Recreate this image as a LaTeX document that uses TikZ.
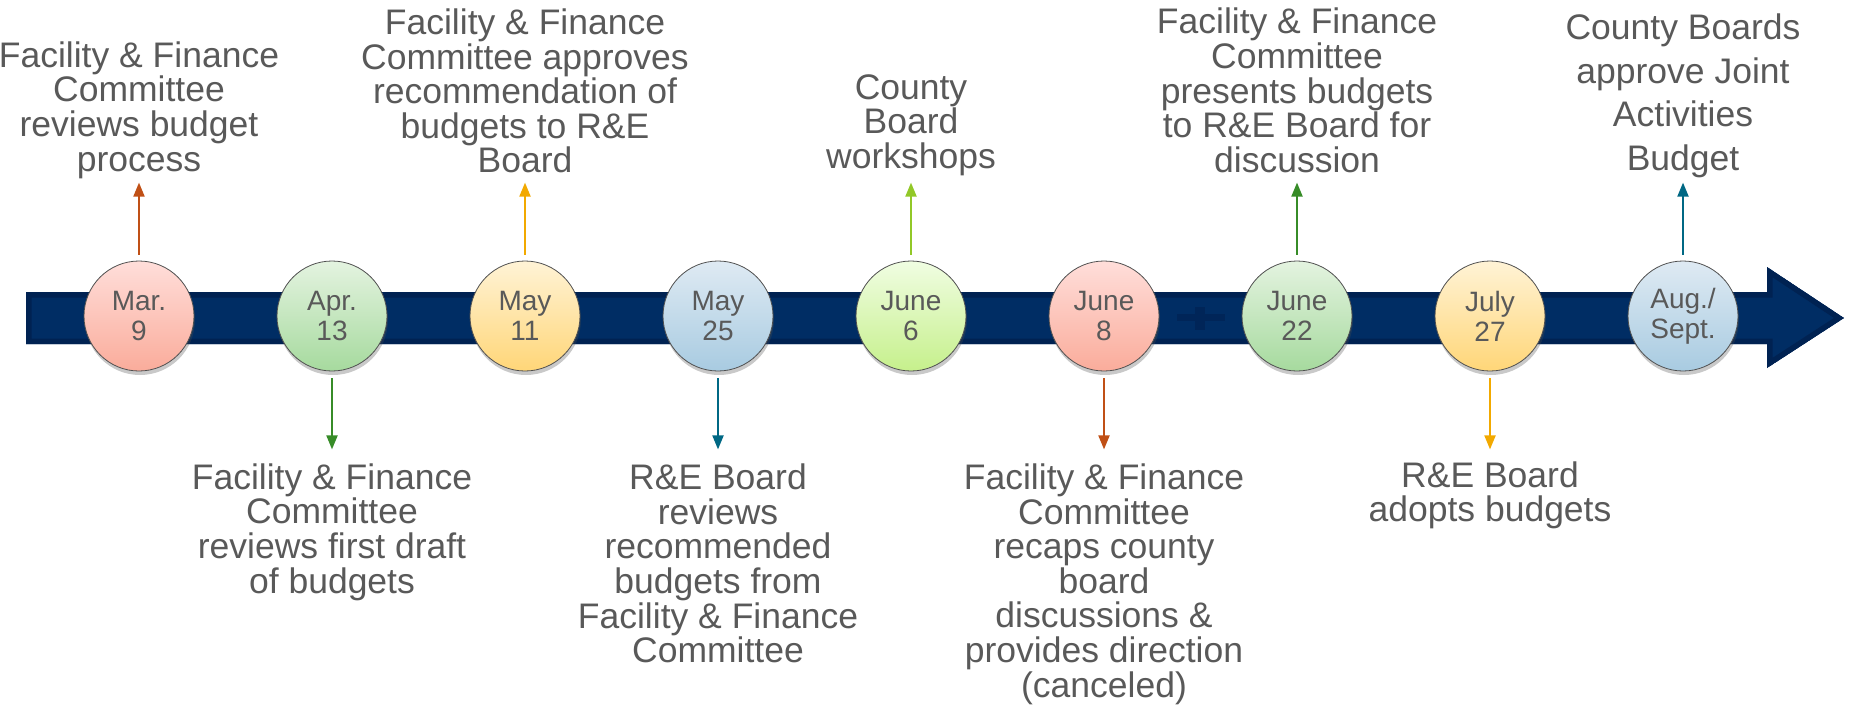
\documentclass[tikz,border=0pt]{standalone}
\usepackage{fontspec}
\setmainfont{Liberation Sans}
\usetikzlibrary{arrows.meta,shadows}
\definecolor{navy}{RGB}{0,45,100}
\definecolor{navydark}{RGB}{0,34,82}
\definecolor{navymark}{RGB}{0,37,88}
\definecolor{txt}{RGB}{89,89,89}
\definecolor{cRed}{RGB}{192,80,22}
\definecolor{cGold}{RGB}{242,169,0}
\definecolor{cLime}{RGB}{146,200,40}
\definecolor{cGreen}{RGB}{55,140,40}
\definecolor{cTeal}{RGB}{0,104,132}
\definecolor{pinkT}{RGB}{255,222,218}
\definecolor{pinkB}{RGB}{250,172,155}
\definecolor{greenT}{RGB}{228,243,224}
\definecolor{greenB}{RGB}{166,218,158}
\definecolor{yelT}{RGB}{255,243,214}
\definecolor{yelB}{RGB}{255,214,120}
\definecolor{blueT}{RGB}{223,234,243}
\definecolor{blueB}{RGB}{168,203,225}
\definecolor{limeT}{RGB}{240,253,226}
\definecolor{limeB}{RGB}{198,240,140}
\definecolor{ringc}{RGB}{80,80,80}
\tikzset{
  date/.style={circle, minimum size=110pt, inner sep=0pt, draw=ringc, line width=0.8pt,
    align=center, text=txt, font=\fontsize{28}{30}\selectfont,
    drop shadow={shadow xshift=1pt, shadow yshift=-4pt, opacity=0.3, fill=black!70}},
  pinkd/.style={date, top color=pinkT, bottom color=pinkB},
  greend/.style={date, top color=greenT, bottom color=greenB},
  yeld/.style={date, top color=yelT, bottom color=yelB},
  blued/.style={date, top color=blueT, bottom color=blueB},
  limed/.style={date, top color=limeT, bottom color=limeB},
  lbl/.style={align=center, text=txt, inner sep=0pt, font=\fontsize{35.5}{34.6}\selectfont},
  conn/.style={line width=2pt, -{Triangle[width=11pt,length=14pt]}},
}
\def\barpath{(26,292) -- (1767,292) -- (1767,267) -- (1844,318) -- (1767,368) -- (1767,344) -- (26,344) -- cycle}
\begin{document}
\begin{tikzpicture}[x=1pt,y=-1pt]
\useasboundingbox (0,0) rectangle (1851,705);
% timeline bar
\begin{scope}
  \clip \barpath;
  \fill[navy] \barpath;
  \draw[navydark, line width=11pt] \barpath;
\end{scope}
\fill[navymark] (1177,314) rectangle (1225,321);
\fill[navymark] (1195,307) rectangle (1205,330);
% dates
\node[pinkd]  (d1) at (139,316) {Mar.\\9};
\node[greend] (d2) at (332,316) {Apr.\\13};
\node[yeld]   (d3) at (525,316) {May\\11};
\node[blued]  (d4) at (718,316) {May\\25};
\node[limed]  (d5) at (911,316) {June\\6};
\node[pinkd]  (d6) at (1104,316) {June\\8};
\node[greend] (d7) at (1297,316) {June\\22};
\node[yeld]   (d8) at (1490,316) {July\\27};
\node[blued]  (d9) at (1683,316) {Aug./\\Sept.};
% labels above
\node[lbl] (l1) at (139,110) {Facility \& Finance\\Committee\\reviews budget\\process};
\node[lbl] (l3) at (525,91) {Facility \& Finance\\Committee approves\\recommendation of\\budgets to R\&E\\Board};
\node[lbl] (l5) at (911,125) {County\\Board\\workshops};
\node[lbl] (l7) at (1297,90.5) {Facility \& Finance\\Committee\\presents budgets\\to R\&E Board for\\discussion};
\node[lbl, font=\fontsize{35.5}{43.5}\selectfont] (l9) at (1683,96) {County Boards\\approve Joint\\Activities\\Budget};
% labels below
\node[lbl] (l2) at (332,532) {Facility \& Finance\\Committee\\reviews first draft\\of budgets};
\node[lbl] (l4) at (718,563.5) {R\&E Board\\reviews\\recommended\\budgets from\\Facility \& Finance\\Committee};
\node[lbl] (l6) at (1104,584) {Facility \& Finance\\Committee\\recaps county\\board\\discussions \&\\provides direction\\(canceled)};
\node[lbl] (l8) at (1490,495.5) {R\&E Board\\adopts budgets};
% connectors up
\draw[conn, cRed]   ([yshift=6pt]d1.north) -- ([yshift=78pt]d1.north);
\draw[conn, cGold]  ([yshift=6pt]d3.north) -- ([yshift=78pt]d3.north);
\draw[conn, cLime]  ([yshift=6pt]d5.north) -- ([yshift=78pt]d5.north);
\draw[conn, cGreen] ([yshift=6pt]d7.north) -- ([yshift=78pt]d7.north);
\draw[conn, cTeal]  ([yshift=6pt]d9.north) -- ([yshift=78pt]d9.north);
% connectors down
\draw[conn, cGreen] ([yshift=-7pt]d2.south) -- ([yshift=-78pt]d2.south);
\draw[conn, cTeal]  ([yshift=-7pt]d4.south) -- ([yshift=-78pt]d4.south);
\draw[conn, cRed]   ([yshift=-7pt]d6.south) -- ([yshift=-78pt]d6.south);
\draw[conn, cGold]  ([yshift=-7pt]d8.south) -- ([yshift=-78pt]d8.south);
\end{tikzpicture}
\end{document}
